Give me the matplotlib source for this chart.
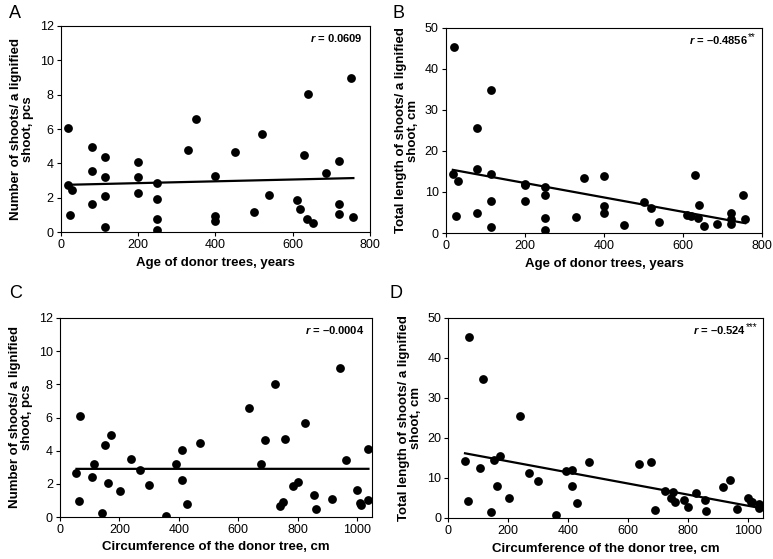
import numpy as np
import matplotlib
matplotlib.use("Agg")
import matplotlib.pyplot as plt

plt.rcParams['font.family'] = ['Liberation Sans', 'DejaVu Sans']
plt.rcParams['mathtext.fontset'] = 'custom'
plt.rcParams['mathtext.it'] = 'Liberation Sans:italic:bold'
plt.rcParams['mathtext.rm'] = 'Liberation Sans:bold'

# ---- data: panels A and B (age of donor trees, years) ----
age = [18, 20, 25, 30, 80, 80, 80, 115, 115, 115, 115, 200, 200, 200,
       250, 250, 250, 250, 330, 350, 400, 400, 400, 450, 500, 520, 540,
       610, 620, 630, 637, 640, 652, 685, 720, 720, 720, 750, 757]
shoots_by_age = [2.72, 6.07, 0.97, 2.47, 4.94, 3.54, 1.61, 4.36, 3.21, 2.08, 0.27,
                 4.06, 3.23, 2.28, 2.86, 1.94, 0.78, 0.14, 4.75, 6.57, 3.27, 0.93,
                 0.66, 4.66, 1.15, 5.68, 2.18, 1.85, 1.32, 4.47, 0.78, 8.01, 0.53,
                 3.44, 4.16, 1.63, 1.07, 9.00, 0.88]
length_by_age = [14.3, 45.4, 4.2, 12.6, 25.6, 15.6, 5.0, 34.8, 14.5, 7.8, 1.4,
                 12.0, 11.8, 7.9, 11.2, 9.2, 3.6, 0.8, 3.8, 13.3, 14.0, 6.5,
                 4.8, 2.0, 7.5, 6.2, 2.7, 4.5, 4.2, 14.1, 3.7, 6.8, 1.6,
                 2.2, 5.0, 3.4, 2.3, 9.3, 3.4]

# ---- data: panels C and D (circumference of the donor tree, cm) ----
circ = [56, 66, 68, 107, 115, 142, 152, 162, 171, 201, 240, 270, 299, 358,
        391, 411, 411, 428, 470, 636, 675, 690, 722, 741, 749, 757, 785, 799,
        825, 855, 860, 915, 940, 963, 1000, 1010, 1012, 1037, 1037]
shoots_by_circ = [2.65, 0.94, 6.07, 2.39, 3.18, 0.24, 4.32, 2.03, 4.92, 1.59,
                  3.52, 2.83, 1.93, 0.08, 3.20, 4.02, 2.23, 0.76, 4.46, 6.57,
                  3.22, 4.62, 8.00, 0.65, 0.88, 4.70, 1.85, 2.12, 5.65, 1.30,
                  0.50, 1.10, 9.00, 3.42, 1.60, 0.82, 0.75, 4.12, 1.02]
length_by_circ = [14.3, 4.3, 45.3, 12.6, 34.8, 1.5, 14.6, 7.9, 15.6, 4.9,
                  25.6, 11.2, 9.2, 0.85, 11.8, 12.0, 7.9, 3.7, 14.0, 13.4,
                  14.0, 2.1, 6.8, 4.9, 6.4, 4.0, 4.6, 2.7, 6.2, 4.5,
                  1.8, 7.7, 9.4, 2.3, 5.1, 4.0, 3.9, 3.5, 2.5]

panel_letters = ['A', 'B', 'C', 'D']
r_main = ['0.0609', '\u20130.4856', '\u20130.0004', '\u20130.524']
r_stars = ['', '**', '', '***']
xlabels = ['Age of donor trees, years', 'Age of donor trees, years',
           'Circumference of the donor tree, cm', 'Circumference of the donor tree, cm']
ylabels = ['Number of shoots/ a lignified\nshoot, pcs',
           'Total length of shoots/ a lignified\nshoot, cm',
           'Number of shoots/ a lignified\nshoot, pcs',
           'Total length of shoots/ a lignified\nshoot, cm']
xmax = [800, 800, 1050, 1050]
xticks = [[0, 200, 400, 600, 800], [0, 200, 400, 600, 800],
          [0, 200, 400, 600, 800, 1000], [0, 200, 400, 600, 800, 1000]]
ymax = [12, 50, 12, 50]
ystep = [2, 10, 2, 10]

xs = [age, age, circ, circ]
ys = [shoots_by_age, length_by_age, shoots_by_circ, length_by_circ]

W, H = 773, 559
fig = plt.figure(figsize=(W / 100, H / 100), dpi=100)

# axes boxes in pixels: left, right, top, bottom
boxes = [(60.7, 370.0, 26.0, 232.0),
         (445.7, 762.3, 28.0, 233.0),
         (59.8, 372.3, 318.0, 517.0),
         (448.2, 763.3, 318.0, 518.0)]
letter_pos = [(9, 13), (392, 13), (9, 294), (390, 294)]

for i in range(4):
    l, r, t, b = boxes[i]
    ax = fig.add_axes([l / W, 1 - b / H, (r - l) / W, (b - t) / H])
    x = np.array(xs[i], dtype=float)
    y = np.array(ys[i], dtype=float)
    ax.scatter(x, y, s=40, color='black', zorder=3, linewidths=0)
    k, c = np.polyfit(x, y, 1)
    xl = np.array([x.min(), x.max()])
    ax.plot(xl, k * xl + c, color='black', lw=1.6, zorder=2)
    ax.set_xlim(0, xmax[i])
    ax.set_ylim(0, ymax[i])
    ax.set_xticks(xticks[i])
    ax.set_yticks(np.arange(0, ymax[i] + 0.001, ystep[i]))
    ax.tick_params(direction='out', length=3, width=0.8, labelsize=9,
                   pad=2, colors='black')
    for s in ax.spines.values():
        s.set_linewidth(0.8)
        s.set_color('black')
    ax.set_xlabel(xlabels[i], fontsize=9.5, fontweight='bold', labelpad=4)
    ax.set_ylabel(ylabels[i], fontsize=9.5, fontweight='bold', labelpad=4,
                  linespacing=1.0)
    rx = 0.975 if r_stars[i] == '' else 0.955 if len(r_stars[i]) == 2 else 0.945
    txt = ax.text(rx, 0.94, r'$\mathit{r}$ = ' + r_main[i], transform=ax.transAxes,
                  ha='right', va='center', fontsize=8, fontweight='bold')
    if r_stars[i]:
        ax.annotate(r_stars[i], xy=(1.0, 0.75), xycoords=txt, ha='left', va='center',
                    fontsize=7)
    fig.text(letter_pos[i][0] / W, 1 - letter_pos[i][1] / H, panel_letters[i],
             fontsize=13, ha='left', va='center')

fig.savefig('out.png', dpi=100)
